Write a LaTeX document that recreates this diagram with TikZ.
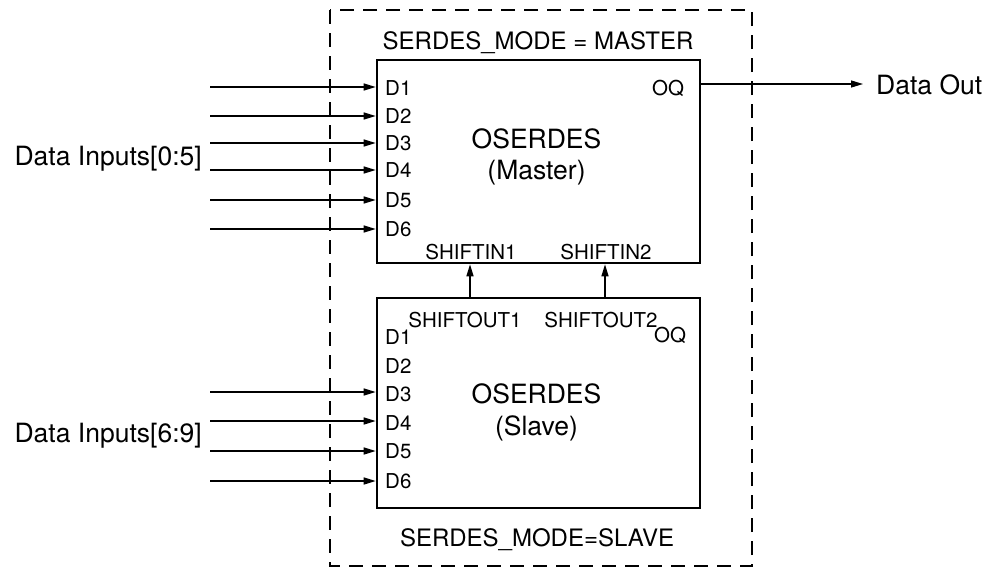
\documentclass[tikz,border=0pt]{standalone}
\usepackage{fontspec}
\setmainfont{TeX Gyre Heros}
\usetikzlibrary{arrows.meta}
\begin{document}
\begin{tikzpicture}[x=1pt,y=-1pt,
  blk/.style={draw,line width=2.6pt,rectangle,inner sep=0pt},
  sig/.style={line width=1.3pt,-{Triangle[length=12pt,width=7pt]}},
  big/.style={font=\fontsize{26.5}{28}\selectfont,inner sep=0pt},
  mode/.style={font=\fontsize{24}{26}\selectfont,inner sep=0pt},
  small/.style={font=\fontsize{20.5}{22}\selectfont,inner sep=0pt},
  frame/.style={draw,line width=1.3pt,dash pattern=on 14pt off 9pt}]
\useasboundingbox (0,0) rectangle (993,568);
\draw[frame] (330,10) rectangle (752,566);
\node[blk,minimum width=323pt,minimum height=203pt] (master) at (538.5,161.5) {};
\node[blk,minimum width=323pt,minimum height=210pt] (slave) at (538.5,403) {};
% master labels
\node[big] (mt1) at (536.5,139) {OSERDES};
\node[big] (mt2) at (536.5,173) {(Master)};
\node[mode] (mmode) at (538,43) {SERDES\_MODE = MASTER};
\node[small,anchor=west] (md1) at (385,88) {D1};
\node[small,anchor=west] (md2) at (385,116) {D2};
\node[small,anchor=west] (md3) at (385,143) {D3};
\node[small,anchor=west] (md4) at (385,170) {D4};
\node[small,anchor=west] (md5) at (385,200) {D5};
\node[small,anchor=west] (md6) at (385,229) {D6};
\node[small] (moq) at (668,88) {OQ};
\node[small] (msi1) at (471,252) {SHIFTIN1};
\node[small] (msi2) at (606,252) {SHIFTIN2};
% slave labels
\node[big] (st1) at (536.5,394) {OSERDES};
\node[big] (st2) at (536.5,428) {(Slave)};
\node[mode] (smode) at (537,540) {SERDES\_MODE=SLAVE};
\node[small,anchor=west] (sd1) at (385,337) {D1};
\node[small,anchor=west] (sd2) at (385,366) {D2};
\node[small,anchor=west] (sd3) at (385,394) {D3};
\node[small,anchor=west] (sd4) at (385,423) {D4};
\node[small,anchor=west] (sd5) at (385,451) {D5};
\node[small,anchor=west] (sd6) at (385,481) {D6};
\node[small] (soq) at (670,335) {OQ};
\node[small] (sso1) at (465,320) {SHIFTOUT1};
\node[small] (sso2) at (601,320) {SHIFTOUT2};
% external labels
\node[big,anchor=east] (din0) at (202,159) {Data Inputs[0:5]};
\node[big,anchor=east] (din6) at (202,436) {Data Inputs[6:9]};
\node[big,anchor=west] (dout) at (876,84.5) {Data Out};
% master inputs
\foreach \i/\y in {1/87,2/116,3/143,4/170,5/200,6/229}{
  \coordinate (ma\i) at (210,\y);
  \draw[sig] (ma\i) -- (ma\i -| master.west);
}
\foreach \i/\y in {3/392,4/421,5/451,6/481}{
  \coordinate (sa\i) at (210,\y);
  \draw[sig] (sa\i) -- (sa\i -| slave.west);
}
% output
\coordinate (oq) at (master.east |- 0,84);
\coordinate (oend) at (863,84);
\draw[sig] (oq) -- (oend);
% shift connections
\coordinate (s1) at (470,0);
\coordinate (s2) at (605,0);
\draw[sig] (s1 |- slave.north) -- (s1 |- master.south);
\draw[sig] (s2 |- slave.north) -- (s2 |- master.south);
\end{tikzpicture}
\end{document}
